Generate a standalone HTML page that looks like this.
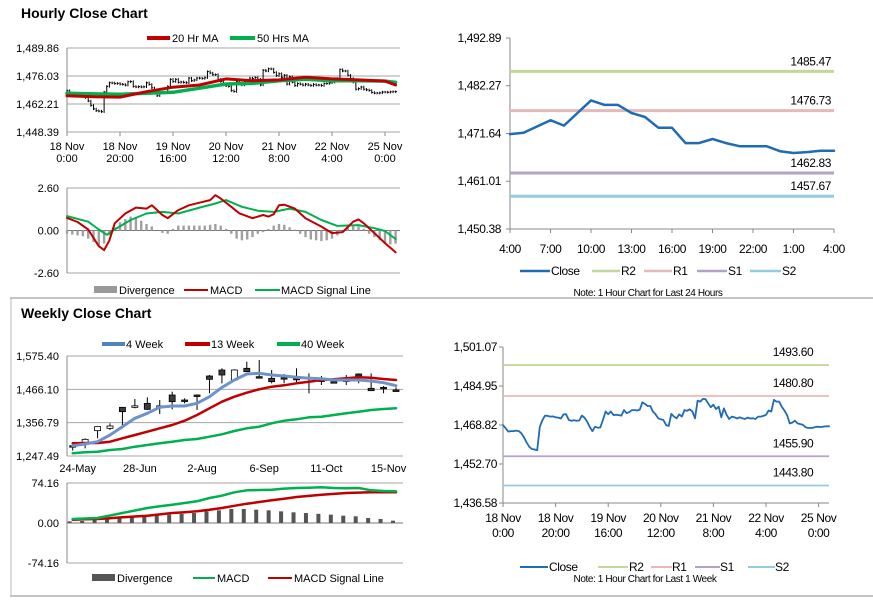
<!DOCTYPE html>
<html><head><meta charset="utf-8"><style>
body{margin:0;background:#fff;}
svg{display:block;font-family:"Liberation Sans",Arial,sans-serif;}
.t11{font-size:11px;fill:#000;}
.t12{font-size:12px;fill:#000;letter-spacing:-0.4px;}
.ttl{font-size:14px;font-weight:bold;fill:#000;}
</style></head><body>
<svg id="root" width="873" height="601" viewBox="0 0 873 601">
<rect x="0" y="0" width="873" height="601" fill="#fff"/>
<text x="21" y="18" class="ttl">Hourly Close Chart</text>
<text x="21" y="318" class="ttl">Weekly Close Chart</text>
<line x1="10" y1="298" x2="873" y2="298" stroke="#888" stroke-width="1"/>
<line x1="10" y1="596" x2="873" y2="596" stroke="#888" stroke-width="1"/>
<line x1="11" y1="298" x2="11" y2="596" stroke="#bbb" stroke-width="1"/>

<!-- hourly legend -->
<g>
<line x1="147" y1="38" x2="170" y2="38" stroke="#c00000" stroke-width="4"/>
<text x="172" y="42" class="t11">20 Hr MA</text>
<line x1="230" y1="38" x2="255" y2="38" stroke="#00b050" stroke-width="4"/>
<text x="257" y="42" class="t11">50 Hrs MA</text>
</g>
<g>
<rect x="94" y="286" width="23" height="7" fill="#999"/>
<text x="119" y="294" class="t11">Divergence</text>
<line x1="184" y1="290" x2="208" y2="290" stroke="#c00000" stroke-width="2"/>
<text x="210" y="294" class="t11">MACD</text>
<line x1="255" y1="290" x2="280" y2="290" stroke="#00b050" stroke-width="2"/>
<text x="281" y="294" class="t11">MACD Signal Line</text>
</g>
<!-- weekly legend -->
<g>
<line x1="102" y1="344" x2="125" y2="344" stroke="#4f81bd" stroke-width="4"/>
<text x="126" y="348" class="t11">4 Week</text>
<line x1="185" y1="344" x2="210" y2="344" stroke="#c00000" stroke-width="4"/>
<text x="211" y="348" class="t11">13 Week</text>
<line x1="277" y1="344" x2="300" y2="344" stroke="#00b050" stroke-width="4"/>
<text x="301" y="348" class="t11">40 Week</text>
</g>
<g>
<rect x="92" y="574" width="23" height="7" fill="#555"/>
<text x="117" y="582" class="t11">Divergence</text>
<line x1="193" y1="578" x2="215" y2="578" stroke="#00b050" stroke-width="2"/>
<text x="217" y="582" class="t11">MACD</text>
<line x1="268" y1="578" x2="292" y2="578" stroke="#c00000" stroke-width="2"/>
<text x="294" y="582" class="t11">MACD Signal Line</text>
</g>
<!-- right legends -->
<g>
<line x1="520" y1="271" x2="550" y2="271" stroke="#1f6bb4" stroke-width="2.5"/>
<text x="551" y="275" class="t12">Close</text>
<line x1="592" y1="271" x2="620" y2="271" stroke="#c3d69b" stroke-width="2.5"/>
<text x="621" y="275" class="t12">R2</text>
<line x1="644" y1="271" x2="672" y2="271" stroke="#e6b9b8" stroke-width="2.5"/>
<text x="673" y="275" class="t12">R1</text>
<line x1="697" y1="271" x2="727" y2="271" stroke="#b3a2c7" stroke-width="2.5"/>
<text x="728" y="275" class="t12">S1</text>
<line x1="750" y1="271" x2="781" y2="271" stroke="#93cddd" stroke-width="2.5"/>
<text x="782" y="275" class="t12">S2</text>
<text x="648" y="296" text-anchor="middle" style="font-size:10px;letter-spacing:-0.4px">Note: 1 Hour Chart for Last 24 Hours</text>
</g>
<g>
<line x1="520" y1="567" x2="548" y2="567" stroke="#1f6bb4" stroke-width="2"/>
<text x="549" y="571" class="t12">Close</text>
<line x1="598" y1="567" x2="628" y2="567" stroke="#c3d69b" stroke-width="2"/>
<text x="629" y="571" class="t12">R2</text>
<line x1="651" y1="567" x2="672" y2="567" stroke="#e6b9b8" stroke-width="2"/>
<text x="672" y="571" class="t12">R1</text>
<line x1="695" y1="567" x2="720" y2="567" stroke="#b3a2c7" stroke-width="2"/>
<text x="720" y="571" class="t12">S1</text>
<line x1="748" y1="567" x2="775" y2="567" stroke="#93cddd" stroke-width="2"/>
<text x="775" y="571" class="t12">S2</text>
<text x="645" y="582" text-anchor="middle" style="font-size:10px;letter-spacing:-0.4px">Note: 1 Hour Chart for Last 1 Week</text>
</g>
</svg>
<script>
const hourlyClose = [1468.8,1467.5,1466.1,1466.3,1466.3,1466.5,1466.3,1465.4,1463.7,1461.5,1459.8,1458.9,1458.7,1458.4,1468.1,1470.9,1472.7,1472.6,1472.3,1472.4,1472.0,1471.9,1471.5,1473.2,1473.3,1470.9,1470.6,1470.8,1470.6,1470.7,1472.7,1471.9,1470.2,1468.0,1466.3,1468.1,1467.7,1467.8,1470.9,1474.4,1473.3,1474.4,1472.9,1473.1,1472.9,1472.7,1475.0,1473.7,1474.1,1475.0,1475.0,1474.8,1475.2,1478.2,1477.5,1476.7,1476.7,1474.4,1473.3,1471.6,1471.2,1470.9,1468.8,1468.4,1473.4,1472.3,1471.6,1473.2,1472.3,1475.0,1474.7,1475.3,1474.4,1471.6,1478.9,1478.5,1479.6,1479.5,1477.8,1476.2,1477.2,1475.4,1476.4,1472.0,1475.7,1473.0,1471.3,1472.3,1472.0,1471.5,1472.0,1471.6,1471.3,1471.9,1471.5,1471.6,1471.3,1472.3,1472.3,1472.6,1473.0,1474.8,1474.4,1479.2,1478.5,1478.5,1476.4,1474.8,1473.0,1469.5,1469.8,1470.6,1469.5,1469.2,1468.9,1467.9,1467.6,1467.6,1467.7,1468.1,1468.1,1468.0,1468.2,1468.3,1468.3];
const hourlyTickIdx = [0,20,40,60,80,100,120];
const hourlyTickDay = ['18 Nov','18 Nov','19 Nov','20 Nov','21 Nov','22 Nov','25 Nov'];
const hourlyTickTime = ['0:00','20:00','16:00','12:00','8:00','4:00','0:00'];
const hourlyYTicks = [1448.39,1462.21,1476.03,1489.86];
const ma20Idx = [0,10,20,30,40,50,60,70,80,90,100,110,120,124];
const ma20Vals = [1466.3,1465.8,1465.6,1468.3,1470.5,1471.6,1474.6,1473.7,1474.1,1475.4,1474.6,1474.1,1473.5,1471.6];
const ma50Idx = [0,10,20,30,40,50,60,70,80,90,100,110,120,124];
const ma50Vals = [1467.5,1467.2,1467.0,1467.5,1468.0,1470.0,1472.1,1472.4,1473.7,1474.4,1473.7,1473.7,1473.5,1472.9];
const macdIdx = [0,4,8,12,14,16,18,22,26,30,32,36,38,42,46,50,54,56,58,62,65,70,74,76,78,80,82,86,90,96,100,104,108,110,112,116,120,124];
const macdVals = [0.77,0.52,0.06,-0.96,-1.2,-0.6,0.44,1.04,1.4,1.34,1.54,0.95,0.75,1.25,1.54,1.7,1.86,2.16,1.96,1.45,1.05,0.75,0.95,0.85,1.0,1.54,1.58,1.34,0.75,0.24,-0.16,-0.1,0.54,0.68,0.44,-0.16,-0.77,-1.33];
const sigIdx = [0,8,12,15,18,24,30,36,42,50,56,60,66,72,78,84,90,96,102,110,116,120,124];
const sigVals = [0.88,0.54,0.06,-0.26,0.06,0.64,1.04,1.14,1.04,1.4,1.65,1.86,1.45,1.21,1.14,1.34,1.14,0.64,0.28,0.33,0.14,-0.03,-0.52];
const divVals = [-0.2,-0.25,-0.3,-0.35,-0.5,-0.7,-0.9,-0.8,-0.3,0.2,0.5,0.7,0.85,0.8,0.6,0.4,0.25,0.0,-0.15,-0.2,0.1,0.3,0.3,0.3,0.3,0.3,0.3,0.35,0.4,0.3,0.1,-0.2,-0.5,-0.6,-0.55,-0.4,-0.2,-0.1,0.1,0.3,0.4,0.35,0.2,0.05,-0.2,-0.4,-0.55,-0.6,-0.65,-0.6,-0.5,-0.3,0.0,0.2,0.3,0.25,0.1,-0.2,-0.4,-0.6,-0.8,-0.85,-0.8];
const macdYTicks = [-2.6,0,2.6];

const wOpen  = [1281.4,1286.8,1330.6,1338.2,1407.1,1410.0,1420.2,1410.5,1447.5,1431.1,1447.5,1509.8,1529.5,1496.7,1535.0,1507.6,1502.2,1504.4,1502.2,1505.5,1496.7,1491.2,1496.7,1516.4,1469.4,1472.6,1463.9];
const wHigh  = [1289.1,1305.4,1343.7,1354.6,1407.1,1434.4,1439.9,1431.1,1458.5,1436.6,1449.7,1513.1,1535.0,1531.7,1556.8,1562.3,1529.5,1516.4,1535.0,1518.6,1509.8,1496.7,1513.1,1518.6,1518.6,1477.0,1472.6];
const wLow   = [1265.0,1272.6,1305.4,1332.8,1338.2,1403.8,1398.4,1385.2,1400.5,1420.2,1398.4,1453.0,1485.8,1496.7,1524.0,1505.5,1485.8,1485.8,1485.8,1453.0,1480.3,1485.8,1480.3,1485.8,1461.7,1453.0,1461.7];
const wClose = [1280.5,1302.1,1343.7,1345.9,1392.8,1412.0,1400.5,1412.0,1425.6,1431.1,1447.5,1498.9,1513.1,1529.5,1524.0,1507.6,1491.2,1504.4,1502.2,1505.5,1496.7,1491.2,1496.7,1509.8,1461.7,1472.6,1463.9];
const w4  = [1281.4,1286.8,1294.4,1316.3,1343.7,1371.0,1387.4,1407.1,1411.4,1411.4,1420.2,1442.1,1472.6,1496.7,1516.4,1518.6,1513.1,1509.8,1505.5,1502.2,1501.0,1496.7,1496.7,1496.7,1493.4,1488.0,1478.1];
const w13 = [1289.1,1290.0,1290.0,1294.4,1305.4,1316.3,1327.3,1338.2,1349.2,1363.4,1382.0,1403.8,1425.6,1442.1,1455.2,1466.1,1474.8,1479.2,1485.8,1491.2,1496.7,1498.9,1502.2,1505.5,1504.4,1500.0,1496.7];
const w40 = [1256.2,1259.5,1261.7,1267.2,1270.4,1278.1,1283.6,1289.1,1294.4,1299.9,1303.2,1310.8,1318.5,1329.4,1338.2,1343.7,1354.6,1363.4,1367.8,1374.3,1376.5,1382.0,1387.4,1392.8,1398.3,1401.6,1403.8];
const wMacd = [7.4,8.3,9.3,13.9,18.5,23.2,27.8,30.9,34.0,37.1,40.2,46.4,50.7,56.9,60.6,61.2,61.8,63.7,64.9,65.5,66.1,64.9,64.3,64.9,60.6,59.3,58.7];
const wSignal = [6.2,6.8,7.4,8.9,10.5,12.0,13.6,16.0,18.5,20.0,21.6,24.7,27.8,31.8,35.8,38.9,42.0,45.1,48.2,50.3,52.5,54.0,55.6,56.3,56.9,56.9,56.9];
const wDiv = [3.0,3.7,6.0,8.0,9.3,11.0,12.4,14.0,15.5,17.0,18.5,21.6,23.5,26.0,26.0,24.7,23.5,21.6,19.8,18.5,17.0,15.5,13.6,12.4,9.3,7.4,4.3];
const weekTickIdx = [0,5,10,15,20,25];
const weekTickLabels = ['24-May','28-Jun','2-Aug','6-Sep','11-Oct','15-Nov'];
const weekYTicks = [1247.49,1356.79,1466.10,1575.40];
const wMacdYTicks = [-74.16,0,74.16];

const dayClose = [1471.5,1471.8,1473.2,1474.6,1473.4,1476.2,1479.0,1478.0,1478.0,1476.2,1475.3,1472.9,1472.9,1469.5,1469.5,1470.4,1469.5,1468.8,1468.8,1468.8,1467.7,1467.3,1467.5,1467.8,1467.8];
const dayTickIdx = [0,3,6,9,12,15,18,21,24];
const dayTickLabels = ['4:00','7:00','10:00','13:00','16:00','19:00','22:00','1:00','4:00'];
const dayYTicks = [1450.38,1461.01,1471.64,1482.27,1492.89];
const levelNames = ['r2','r1','s1','s2'];
const levelColors = ['#c3d69b','#e6b9b8','#b3a2c7','#93cddd'];
const dayLevelVals = [1485.47,1476.73,1462.83,1457.67];
const weekLevelVals = [1493.60,1480.80,1455.90,1443.80];
const whYTicks = [1436.58,1452.70,1468.82,1484.95,1501.07];

const NS = 'http://www.w3.org/2000/svg';
const root = document.getElementById('root');
function lin(d0,d1,r0,r1){return v => r0 + (v-d0)*(r1-r0)/(d1-d0);}
function mk(tag, attrs, parent){const e=document.createElementNS(NS,tag);for(const k in attrs)e.setAttribute(k,attrs[k]);(parent||root).appendChild(e);return e;}
function fmt(v){return v.toLocaleString('en-US',{minimumFractionDigits:2,maximumFractionDigits:2});}
function pathOf(xs,ys){return xs.map((x,i)=>(i?'L':'M')+x.toFixed(1)+' '+ys[i].toFixed(1)).join(' ');}

function grid(x0,x1,ys,sc,labelX,cls,name,fmtf,zeroDark){
  ys.forEach(v=>{
    const y=sc(v);
    const g=mk('line',{x1:x0,x2:x1,y1:y,y2:y,stroke:(zeroDark&&v===0)?'#777':'#a6a6a6','stroke-width':1});
    
    
    const t=mk('text',{x:labelX,y:y+4,'text-anchor':'end',class:cls});
    t.textContent=fmtf(v);
    
    
  });
}
function axisV(x,y0,y1,name){
  const a=mk('line',{x1:x,x2:x,y1:y0,y2:y1,stroke:'#888','stroke-width':1});
  
  
}
function line(xs,ys,color,w,name){
  const p=mk('path',{d:pathOf(xs,ys),fill:'none',stroke:color,'stroke-width':w,'stroke-linejoin':'round','stroke-linecap':'round'});
  
  
}

/* ===== Hourly top chart ===== */
const hx = lin(0,120,67,385), hy = lin(1448.39,1489.86,132,48);
grid(67,400,hourlyYTicks,hy,59,'t11','hourly-price',fmt);
axisV(67,48,132,'hourly-price');
hourlyTickIdx.forEach((ix,k)=>{
  const x=hx(ix);
  const tk=mk('line',{x1:x,x2:x,y1:132,y2:136,stroke:'#888'});
  
  
  const t1=mk('text',{x:x,y:150,'text-anchor':'middle',class:'t11'});
  t1.textContent=hourlyTickDay[k];
  
  
  const t2=mk('text',{x:x,y:162,'text-anchor':'middle',class:'t11'});
  t2.textContent=hourlyTickTime[k];
  
  
});
hourlyClose.forEach((c,i)=>{
  const prev = i?hourlyClose[i-1]:c;
  const hi=Math.max(prev,c)+0.6, lo=Math.min(prev,c)-0.6;
  const x=hx(i);
  const b=mk('line',{x1:x,x2:x,y1:hy(hi),y2:hy(lo),stroke:'#000','stroke-width':1});
  
  
  const tk=mk('line',{x1:x,x2:x+1.5,y1:hy(c),y2:hy(c),stroke:'#000','stroke-width':1});
  
  
});
line(ma50Idx.map(hx),ma50Vals.map(hy),'#00b050',3.5,'hourly-50hr-ma-line');
line(ma20Idx.map(hx),ma20Vals.map(hy),'#c00000',3,'hourly-20hr-ma-line');

/* ===== Hourly MACD ===== */
const my = lin(-2.6,2.6,273,188);
grid(67,400,macdYTicks,my,59,'t11','hourly-macd',v=>v.toFixed(2),true);
axisV(67,188,273,'hourly-macd');
divVals.forEach((v,k)=>{
  const x=hx(k*2);
  const y0=my(0), y1=my(v);
  const r=mk('rect',{x:x-1.2,y:Math.min(y0,y1),width:2.4,height:Math.abs(y1-y0),fill:'#a0a0a0'});
  
  
});
line(sigIdx.map(hx),sigVals.map(my),'#00b050',2,'hourly-macd-signal-line');
line(macdIdx.map(hx),macdVals.map(my),'#c00000',2,'hourly-macd-line');

/* ===== Weekly chart ===== */
const wx = lin(0,26,72.7,396), wy = lin(1247.49,1575.40,456,356);
grid(67,403,weekYTicks,wy,59,'t11','weekly-price',fmt);
axisV(67,356,456,'weekly-price');
weekTickIdx.forEach((ix,k)=>{
  const t=mk('text',{x:wx(ix)+5,y:472,'text-anchor':'middle',class:'t11'});
  t.textContent=weekTickLabels[k];
  
  
});
wOpen.forEach((o,i)=>{
  const x=wx(i), c=wClose[i];
  const wk=mk('line',{x1:x,x2:x,y1:wy(wHigh[i]),y2:wy(wLow[i]),stroke:'#000','stroke-width':1});
  
  
  const top=wy(Math.max(o,c)), bot=wy(Math.min(o,c));
  const h=Math.max(bot-top,1.5);
  const body=mk('rect',{x:x-3,y:top,width:6,height:h,fill:c>o?'#fff':'#3a3a3a',stroke:'#000','stroke-width':0.8});
  
  
});
const widx = w4.map((_,i)=>i);
line(widx.map(wx),w40.map(wy),'#00b050',2.5,'weekly-40wk-ma-line');
line(widx.map(wx),w13.map(wy),'#c00000',2.5,'weekly-13wk-ma-line');
line(widx.map(wx),w4.map(wy),'#6d93c8',3,'weekly-4wk-ma-line');

/* ===== Weekly MACD ===== */
const wmy = lin(-74.16,74.16,563,483);
grid(67,403,wMacdYTicks,wmy,59,'t11','weekly-macd',v=>v.toFixed(2),true);
axisV(67,483,563,'weekly-macd');
wDiv.forEach((v,i)=>{
  const x=wx(i)-3;
  const r=mk('rect',{x:x-2,y:wmy(v),width:4,height:wmy(0)-wmy(v),fill:'#555'});
  
  
});
line(widx.map(wx),wSignal.map(wmy),'#c00000',2.5,'weekly-macd-signal-line');
line(widx.map(wx),wMacd.map(wmy),'#00b050',2.5,'weekly-macd-line');

/* ===== Daily (24h) chart ===== */
const dx = lin(0,24,510,834), dy = lin(1450.38,1492.89,229,38);
axisV(510,38,229,'daily');
dayYTicks.forEach(v=>{
  const y=dy(v);
  const tk=mk('line',{x1:506,x2:510,y1:y,y2:y,stroke:'#888'});
  
  
  const t=mk('text',{x:501,y:y+4,'text-anchor':'end',class:'t12'});
  t.textContent=fmt(v);
  
  
});
const dax=mk('line',{x1:510,x2:834,y1:229,y2:229,stroke:'#888'});


dayTickIdx.forEach((ix,k)=>{
  const x=dx(ix);
  const tk=mk('line',{x1:x,x2:x,y1:229,y2:233,stroke:'#888'});
  
  
  const t=mk('text',{x:x,y:253,'text-anchor':'middle',class:'t12'});
  t.textContent=dayTickLabels[k];
  
  
});
dayLevelVals.forEach((v,k)=>{
  const y=dy(v);
  const l=mk('line',{x1:510,x2:834,y1:y,y2:y,stroke:levelColors[k],'stroke-width':3});
  
  
  const t=mk('text',{x:831,y:y-6,'text-anchor':'end',class:'t12'});
  t.textContent=v.toFixed(2);
  
  
});
line(dayClose.map((_,i)=>dx(i)),dayClose.map(dy),'#1f6bb4',2.5,'daily-close-line');

/* ===== Week hourly chart ===== */
const bx = lin(0,120,503,818.6), by = lin(1436.58,1501.07,503,347);
axisV(503,347,503,'weekhourly');
whYTicks.forEach(v=>{
  const y=by(v);
  const tk=mk('line',{x1:499,x2:503,y1:y,y2:y,stroke:'#888'});
  
  
  const t=mk('text',{x:497,y:y+4,'text-anchor':'end',class:'t12'});
  t.textContent=fmt(v);
  
  
});
const bax=mk('line',{x1:503,x2:829,y1:503,y2:503,stroke:'#888'});


hourlyTickIdx.forEach((ix,k)=>{
  const x=bx(ix);
  const tk=mk('line',{x1:x,x2:x,y1:503,y2:507,stroke:'#888'});
  
  
  const t1=mk('text',{x:x,y:522,'text-anchor':'middle',class:'t12'});
  t1.textContent=hourlyTickDay[k];
  
  
  const t2=mk('text',{x:x,y:537,'text-anchor':'middle',class:'t12'});
  t2.textContent=hourlyTickTime[k];
  
  
});
weekLevelVals.forEach((v,k)=>{
  const y=by(v);
  const l=mk('line',{x1:503,x2:829,y1:y,y2:y,stroke:levelColors[k],'stroke-width':1.8});
  
  
  const t=mk('text',{x:793,y:y-9,'text-anchor':'middle',class:'t12'});
  t.textContent=v.toFixed(2);
  
  
});
line(hourlyClose.map((_,i)=>bx(i)),hourlyClose.map(by),'#1f6bb4',1.8,'weekhourly-close-line');
</script>
</body></html>
